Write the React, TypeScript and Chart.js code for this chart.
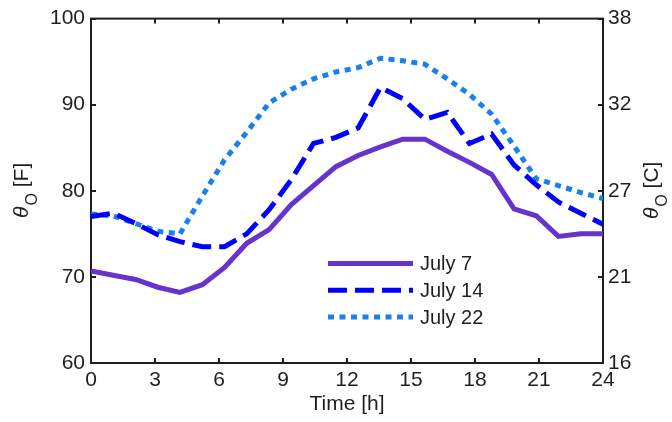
import React, { useEffect, useRef } from "react";
import { Chart, registerables } from "chart.js";

Chart.register(...registerables);

// Time axis (hours), 24 samples spread over 0..24 h
const hours = [0, 1.04, 2.09, 3.13, 4.17, 5.22, 6.26, 7.3, 8.35, 9.39, 10.43, 11.48, 12.52, 13.57, 14.61, 15.65, 16.7, 17.74, 18.78, 19.83, 20.87, 21.91, 22.96, 24];

// Outdoor temperature [F]
const july7 = [70.7, 70.2, 69.7, 68.8, 68.2, 69.1, 71.1, 73.9, 75.5, 78.4, 80.6, 82.8, 84.1, 85.1, 86.0, 86.0, 84.6, 83.3, 81.9, 77.9, 77.1, 74.7, 75.0, 75.0];
const july14 = [77.0, 77.4, 76.2, 74.9, 74.1, 73.5, 73.5, 75.0, 77.8, 81.3, 85.5, 86.2, 87.3, 92.0, 90.7, 88.3, 89.1, 85.5, 86.6, 83.0, 80.7, 78.7, 77.4, 76.1];
const july22 = [77.3, 77.1, 76.2, 75.3, 75.0, 79.4, 83.6, 86.8, 90.2, 91.8, 93.0, 93.8, 94.3, 95.4, 95.1, 94.7, 93.0, 91.2, 88.9, 85.2, 81.4, 80.6, 79.8, 79.1];

const seriesLabels = ["July 7", "July 14", "July 22"];
const xTicks = [0, 3, 6, 9, 12, 15, 18, 21, 24];
const fTicks = [60, 70, 80, 90, 100];
const cTickLabels = ["16", "21", "27", "32", "38"];

const FONT = "'Liberation Sans', Arial, Helvetica, sans-serif";
const INK = "#1f1f1f";

function drawThetaTitle(ctx: CanvasRenderingContext2D, bx: number, cy: number, unit: string) {
  ctx.save();
  ctx.translate(bx, cy);
  ctx.rotate(-Math.PI / 2);
  ctx.fillStyle = INK;
  ctx.textBaseline = "alphabetic";
  ctx.textAlign = "left";
  const ital = `italic 21px ${FONT}`;
  const sub = `16px ${FONT}`;
  const main = `21px ${FONT}`;
  ctx.font = ital;
  const w1 = ctx.measureText("θ").width;
  ctx.font = sub;
  const w2 = ctx.measureText("O").width;
  ctx.font = main;
  const w3 = ctx.measureText(unit).width;
  let x = -(w1 + w2 + w3) / 2;
  ctx.font = ital;
  ctx.fillText("θ", x, 0);
  x += w1 + 1;
  ctx.font = sub;
  ctx.fillText("O", x, 9);
  x += w2;
  ctx.font = main;
  ctx.fillText(unit, x, 0);
  ctx.restore();
}

const boxPlugin = {
  id: "boxTicks",
  beforeDatasetsDraw(chart: any) {
    const { ctx, chartArea: a, scales } = chart;
    ctx.save();
    ctx.strokeStyle = INK;
    ctx.lineWidth = 2;
    ctx.strokeRect(a.left, a.top, a.right - a.left, a.bottom - a.top);
    const L = 5;
    ctx.beginPath();
    for (const v of xTicks) {
      const px = Math.round(scales.x.getPixelForValue(v));
      ctx.moveTo(px, a.bottom);
      ctx.lineTo(px, a.bottom - L);
      ctx.moveTo(px, a.top);
      ctx.lineTo(px, a.top + L);
    }
    for (const v of fTicks) {
      const py = Math.round(scales.y.getPixelForValue(v));
      ctx.moveTo(a.left, py);
      ctx.lineTo(a.left + L, py);
      ctx.moveTo(a.right, py);
      ctx.lineTo(a.right - L, py);
    }
    ctx.stroke();
    ctx.restore();
  },
};

const legendPlugin = {
  id: "inlineLegend",
  afterDatasetsDraw(chart: any) {
    const { ctx, chartArea: a } = chart;
    const x0 = a.left + 237;
    const x1 = a.left + 322;
    const tx = a.left + 329;
    const y0 = a.top + 245;
    const dy = 26.7;
    chart.data.datasets.forEach((ds: any, i: number) => {
      const y = y0 + i * dy;
      ctx.save();
      ctx.strokeStyle = ds.borderColor;
      ctx.lineWidth = ds.borderWidth;
      ctx.lineCap = "butt";
      ctx.setLineDash(ds.borderDash || []);
      ctx.beginPath();
      ctx.moveTo(x0, y);
      ctx.lineTo(x1, y);
      ctx.stroke();
      ctx.setLineDash([]);
      ctx.fillStyle = INK;
      ctx.font = `20px ${FONT}`;
      ctx.textBaseline = "middle";
      ctx.textAlign = "left";
      ctx.fillText(ds.label, tx, y + 1);
      ctx.restore();
    });
  },
};

const titlePlugin = {
  id: "yTitles",
  afterDraw(chart: any) {
    const { ctx, chartArea: a } = chart;
    const cy = (a.top + a.bottom) / 2;
    drawThetaTitle(ctx, 28, cy, " [F]");
    drawThetaTitle(ctx, 658, cy, " [C]");
  },
};

export default function App() {
  const ref = useRef<HTMLCanvasElement>(null);
  useEffect(() => {
    document.body.style.margin = "0";
    const toPts = (arr: number[]) => arr.map((v, i) => ({ x: hours[i], y: v }));
    const tickFont = { size: 21, family: FONT };
    const chart = new Chart(ref.current as HTMLCanvasElement, {
      type: "line",
      data: {
        datasets: [
          {
            label: seriesLabels[0],
            data: toPts(july7),
            borderColor: "#6633cc",
            borderWidth: 5,
            pointRadius: 0,
            tension: 0,
            fill: false,
          },
          {
            label: seriesLabels[1],
            data: toPts(july14),
            borderColor: "#0000ff",
            borderWidth: 5,
            borderDash: [19, 8],
            borderCapStyle: "butt",
            pointRadius: 0,
            tension: 0,
            fill: false,
          },
          {
            label: seriesLabels[2],
            data: toPts(july22),
            borderColor: "#1a80f0",
            borderWidth: 5,
            borderDash: [6, 5.5],
            borderCapStyle: "butt",
            pointRadius: 0,
            tension: 0,
            fill: false,
          },
        ] as any,
      },
      plugins: [boxPlugin, legendPlugin, titlePlugin],
      options: {
        animation: false,
        responsive: true,
        maintainAspectRatio: false,
        layout: { padding: { top: 18, left: 0, right: 0, bottom: 0 } },
        plugins: { legend: { display: false }, tooltip: { enabled: false } },
        scales: {
          x: {
            type: "linear",
            position: "bottom",
            min: 0,
            max: 24,
            grid: { display: false, drawTicks: false },
            border: { display: false },
            afterBuildTicks: (s: any) => {
              s.ticks = xTicks.map((v) => ({ value: v }));
            },
            ticks: {
              font: tickFont,
              color: INK,
              padding: 5,
              maxRotation: 0,
              autoSkip: false,
              callback: (v: any) => String(v),
            },
            title: {
              display: true,
              text: "Time [h]",
              font: { size: 21, family: FONT },
              color: INK,
              padding: { top: 0, bottom: 5 },
            },
            afterFit: (s: any) => {
              s.height = 59;
            },
          },
          y: {
            type: "linear",
            position: "left",
            min: 60,
            max: 100,
            grid: { display: false, drawTicks: false },
            border: { display: false },
            afterBuildTicks: (s: any) => {
              s.ticks = fTicks.map((v) => ({ value: v }));
            },
            ticks: { font: tickFont, color: INK, padding: 6, callback: (v: any) => String(v) },
            afterFit: (s: any) => {
              s.width = 91;
            },
          },
          y2: {
            type: "linear",
            display: true,
            position: "right",
            min: 60,
            max: 100,
            grid: { display: false, drawTicks: false },
            border: { display: false },
            afterBuildTicks: (s: any) => {
              s.ticks = fTicks.map((v) => ({ value: v }));
            },
            ticks: {
              font: tickFont,
              color: INK,
              padding: 5,
              callback: (_v: any, i: number) => cTickLabels[i],
            },
            afterFit: (s: any) => {
              s.width = 69;
            },
          },
        },
      } as any,
    });
    return () => chart.destroy();
  }, []);
  return (
    <div style={{ width: 672, height: 422, position: "relative" }}>
      <canvas ref={ref} />
    </div>
  );
}
